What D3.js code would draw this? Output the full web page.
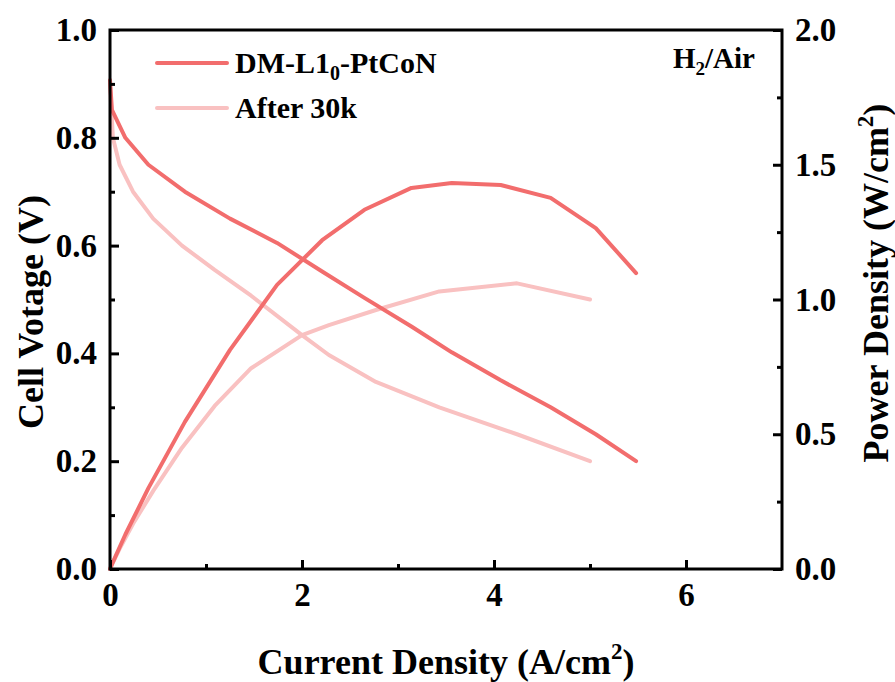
<!DOCTYPE html>
<html>
<head>
<meta charset="utf-8">
<script src="https://cdn.jsdelivr.net/npm/d3@7"></script>
<style>
  body { margin: 0; background: #fff; }
  svg text { font-family: "Liberation Serif", "Times New Roman", serif; font-weight: bold; fill: #000; }
</style>
</head>
<body>
<svg id="chart" width="895" height="682"></svg>
<script>
'use strict'
// polarization + power curves
var freshCurrent = [0, 0.02, 0.16, 0.40, 0.78, 1.25, 1.74, 2.21, 2.65, 3.14, 3.56, 4.07, 4.59, 5.06, 5.48];
var freshVoltage = [0.907, 0.852, 0.80, 0.75, 0.70, 0.65, 0.605, 0.552, 0.503, 0.45, 0.402, 0.35, 0.30, 0.25, 0.20];
var freshPower   = [0, 0.017, 0.128, 0.30, 0.546, 0.813, 1.054, 1.22, 1.333, 1.414, 1.432, 1.425, 1.377, 1.265, 1.098];

var agedCurrent = [0, 0.03, 0.10, 0.24, 0.45, 0.75, 1.09, 1.47, 2.0, 2.28, 2.77, 3.43, 4.24, 5.0];
var agedVoltage = [0.90, 0.80, 0.75, 0.70, 0.65, 0.60, 0.555, 0.507, 0.434, 0.397, 0.347, 0.30, 0.25, 0.20];
var agedPower   = [0, 0.024, 0.075, 0.168, 0.29, 0.45, 0.605, 0.745, 0.868, 0.905, 0.961, 1.03, 1.06, 1.0];

var xTicks = [0, 2, 4, 6];
var xMinor = [1, 3, 5];
var vTicks = [0, 0.2, 0.4, 0.6, 0.8, 1.0];
var vMinor = [0.1, 0.3, 0.5, 0.7, 0.9];
var pTicks = [0, 0.5, 1.0, 1.5, 2.0];
var pMinor = [0.25, 0.75, 1.25, 1.75];

var seriesNames = ["DM-L1", "After 30k"];
var colFresh = "#f26d6d";
var colAged = "#f9c1c1";

var margin = {top: 30, right: 113, bottom: 113, left: 110};
var W = 895, H = 682;
var w = W - margin.left - margin.right;
var h = H - margin.top - margin.bottom;

var svg = d3.select("#chart");
var g = svg.append("g").attr("transform", "translate(" + margin.left + "," + margin.top + ")");

var x = d3.scaleLinear().domain([0, 7]).range([0, w]);
var yV = d3.scaleLinear().domain([0, 1]).range([h, 0]);
var yP = d3.scaleLinear().domain([0, 2]).range([h, 0]);

function zip(a, b) {
	return a.map(function(d, i){ return [d, b[i]]; });
}

var lineV = d3.line().x(function(d){ return x(d[0]); }).y(function(d){ return yV(d[1]); });
var lineP = d3.line().x(function(d){ return x(d[0]); }).y(function(d){ return yP(d[1]); });

// data lines (aged first so the fresh one sits on top)
var curves = [
	{d: zip(agedCurrent, agedVoltage), fn: lineV, c: colAged},
	{d: zip(agedCurrent, agedPower), fn: lineP, c: colAged},
	{d: zip(freshCurrent, freshVoltage), fn: lineV, c: colFresh},
	{d: zip(freshCurrent, freshPower), fn: lineP, c: colFresh}
];
curves.forEach(function(cv){
	g.append("path")
		.attr("d", cv.fn(cv.d))
		.attr("fill", "none")
		.attr("stroke", cv.c)
		.attr("stroke-width", 4)
		.attr("stroke-linejoin", "round")
		.attr("stroke-linecap", "round");
});

// axes, ticks pointing inward
function styleAxis(sel) {
	sel.select(".domain").remove();
	sel.selectAll(".tick line").attr("stroke", "#000").attr("stroke-width", 3);
	sel.selectAll(".tick text").style("font-size", "33px");
}

g.append("g").attr("transform", "translate(0," + h + ")")
	.call(d3.axisBottom(x).tickValues(xTicks).tickSize(-9).tickPadding(14).tickFormat(d3.format("d")))
	.call(styleAxis);
g.append("g").attr("transform", "translate(0," + h + ")")
	.call(d3.axisBottom(x).tickValues(xMinor).tickSize(-5).tickFormat(""))
	.call(styleAxis);

g.append("g")
	.call(d3.axisLeft(yV).tickValues(vTicks).tickSize(-9).tickPadding(13).tickFormat(d3.format(".1f")))
	.call(styleAxis);
g.append("g")
	.call(d3.axisLeft(yV).tickValues(vMinor).tickSize(-5).tickFormat(""))
	.call(styleAxis);

g.append("g").attr("transform", "translate(" + w + ",0)")
	.call(d3.axisRight(yP).tickValues(pTicks).tickSize(-9).tickPadding(13).tickFormat(d3.format(".1f")))
	.call(styleAxis);
g.append("g").attr("transform", "translate(" + w + ",0)")
	.call(d3.axisRight(yP).tickValues(pMinor).tickSize(-5).tickFormat(""))
	.call(styleAxis);

// frame
g.append("rect")
	.attr("width", w).attr("height", h)
	.attr("fill", "none").attr("stroke", "#000").attr("stroke-width", 3);

// axis titles
var xt = svg.append("text")
	.attr("x", margin.left + w / 2).attr("y", 674)
	.attr("text-anchor", "middle").style("font-size", "36px");
xt.append("tspan").text("Current Density (A/cm");
xt.append("tspan").attr("dy", -15).style("font-size", "23px").text("2");
xt.append("tspan").attr("dy", 15).text(")");

svg.append("text")
	.attr("transform", "translate(43,312) rotate(-90)")
	.attr("text-anchor", "middle").style("font-size", "36px")
	.text("Cell Votage (V)");

var pt = svg.append("text")
	.attr("transform", "translate(888,283) rotate(-90)")
	.attr("text-anchor", "middle").style("font-size", "36px");
pt.append("tspan").text("Power Density (W/cm");
pt.append("tspan").attr("dy", -15).style("font-size", "23px").text("2");
pt.append("tspan").attr("dy", 15).text(")");

// H2/Air label
var gas = svg.append("text")
	.attr("x", 755).attr("y", 68)
	.attr("text-anchor", "end").style("font-size", "29px");
gas.append("tspan").text("H");
gas.append("tspan").attr("dy", 7).style("font-size", "19px").text("2");
gas.append("tspan").attr("dy", -7).text("/Air");

// legend
var leg = svg.append("g");
[colFresh, colAged].forEach(function(c, i){
	var yy = 63 + i * 45;
	leg.append("line")
		.attr("x1", 157).attr("x2", 227).attr("y1", yy).attr("y2", yy)
		.attr("stroke", c).attr("stroke-width", 4).attr("stroke-linecap", "round");
	var t = leg.append("text").attr("x", 235).attr("y", yy + 10).style("font-size", "30px");
	if (i === 0) {
		t.append("tspan").text(seriesNames[0]);
		t.append("tspan").attr("dy", 7).style("font-size", "20px").text("0");
		t.append("tspan").attr("dy", -7).text("-PtCoN");
	} else {
		t.text(seriesNames[1]);
	}
});
</script>
</body>
</html>
